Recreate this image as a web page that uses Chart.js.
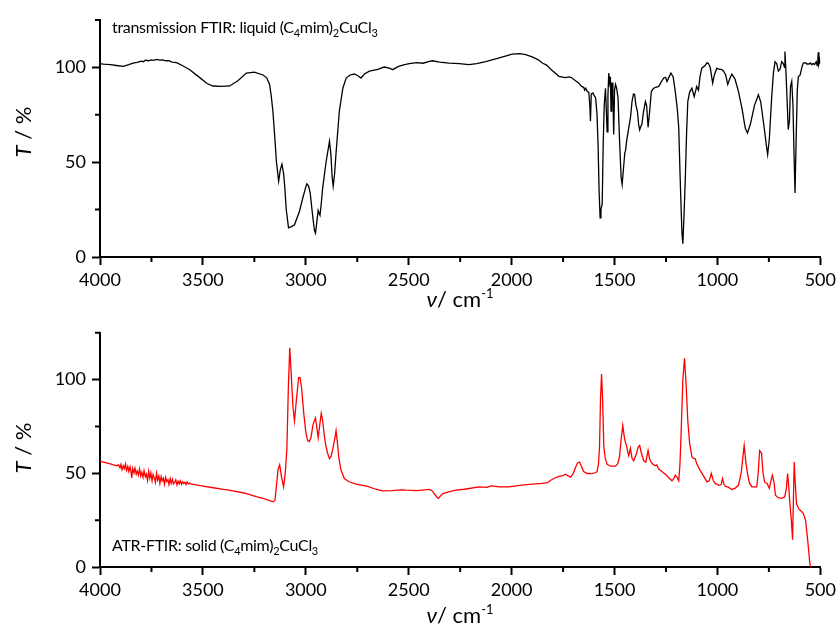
<!DOCTYPE html>
<html>
<head>
<meta charset="utf-8">
<script src="https://cdn.jsdelivr.net/npm/chart.js@4.4.1/dist/chart.umd.min.js"></script>
<style>
  body { margin: 0; background: #fff; }
  #wrap { position: relative; width: 840px; height: 632px; font-family: Lato, "Open Sans", sans-serif; color: #000; }
  canvas { position: absolute; left: 0; }
  .note { position: absolute; font-size: 16px; white-space: nowrap; letter-spacing: -0.3px; }
  .note sub { font-size: 11px; vertical-align: -4px; line-height: 0; }
  .xt { position: absolute; width: 840px; text-align: center; font-size: 22px; }
  .xt sup { font-size: 13px; vertical-align: 9px; line-height: 0; }
  .yt { position: absolute; width: 60px; height: 26px; line-height: 26px; text-align: center; font-size: 22px; transform: rotate(-90deg); transform-origin: center; white-space: nowrap; }
</style>
</head>
<body>
<div id="wrap">
  <canvas id="top" width="840" height="316" style="top:0"></canvas>
  <canvas id="bot" width="840" height="316" style="top:316px"></canvas>
  <div class="note" style="left:112px;top:17px">transmission FTIR: liquid (C<sub>4</sub>mim)<sub>2</sub>CuCl<sub>3</sub></div>
  <div class="note" style="left:112px;top:535px">ATR-FTIR: solid (C<sub>4</sub>mim)<sub>2</sub>CuCl<sub>3</sub></div>
  <div class="xt" style="left:40px;top:285px"><i>&nu;</i>/ cm<sup>-1</sup></div>
  <div class="xt" style="left:40px;top:601px"><i>&nu;</i>/ cm<sup>-1</sup></div>
  <div class="yt" style="left:-7px;top:119px"><i>T</i> / %</div>
  <div class="yt" style="left:-7px;top:435px"><i>T</i> / %</div>
</div>
<script>
// transmission FTIR, liquid sample (black)
const liquidWn = [4000,3984,3950,3920,3887,3860,3840,3820,3800,3790,3780,3765,3750,3740,3725,3710,3695,3680,3665,3650,3628,3600,3564,3520,3480,3451,3410,3370,3330,3289,3250,3208,3190,3176,3168,3160,3150,3143,3132,3124,3116,3108,3103,3095,3084,3070,3055,3031,3015,3000,2995,2987,2979,2966,2958,2953,2947,2940,2935,2931,2925,2918,2901,2885,2878,2872,2867,2860,2853,2837,2820,2804,2785,2764,2745,2732,2715,2691,2650,2620,2594,2578,2550,2520,2497,2460,2430,2400,2384,2350,2303,2255,2207,2170,2126,2060,1997,1960,1932,1900,1870,1851,1830,1810,1790,1770,1740,1720,1706,1690,1673,1660,1650,1645,1640,1633,1625,1620,1617,1613,1605,1598,1592,1585,1580,1575,1570,1566,1560,1555,1550,1544,1540,1536,1532,1528,1524,1520,1517,1514,1512,1508,1504,1500,1495,1490,1483,1475,1468,1463,1457,1450,1447,1440,1431,1422,1415,1408,1402,1396,1389,1383,1378,1372,1367,1360,1350,1344,1337,1330,1321,1310,1300,1285,1275,1261,1252,1245,1235,1226,1215,1205,1195,1188,1182,1176,1172,1168,1163,1156,1150,1144,1135,1124,1113,1105,1101,1092,1085,1076,1060,1050,1043,1035,1028,1023,1015,1003,990,980,970,960,950,940,930,915,898,880,865,854,840,820,801,790,775,760,756,748,736,728,720,712,704,696,688,680,674,672,668,662,656,650,645,639,633,628,623,618,612,607,598,590,583,575,565,555,548,543,535,528,520,515,512,510,507,503,500];
const liquidT = [102,101.7,101.5,101,100.5,101.5,102.3,102.6,103.3,103,103.8,103.5,104,103.7,104.2,103.8,104,103.5,103.5,102.8,102.5,101,98.8,95,91.5,90.2,90,90.2,93,97,97.5,96,94.5,91,85,77,62,50.5,40,46,49,44,38,25,15.4,16,17,24,31,37,38.6,37.5,34,21,14,12.5,18,24.6,23,22,28,36.5,50.5,61,54,42,37.4,44,55,77,89,94.4,96,96.5,95.5,94.4,96.5,98,99,100.2,99.6,98.8,100.5,101.5,102,102.5,102.2,103.2,103.5,102.8,102.3,102,101.5,102,103,105,107,107.3,106.7,105.5,104,102.3,101.2,99,97.2,95.3,94.6,95,94.4,93,91.7,90,89.5,88,89,87.4,86.8,80,71.6,86,86.5,85,84,75,59.4,35,20.7,25,28,60,80,89,78,66,85,97,92,95,77,90,92,85,64.6,88,91,89,84,60,42,38.2,46,55,55.8,62,68,74,82,86,85.6,80,77,70,67,69,70,76,82,80,68.4,76,87.4,89,89.5,90,92,94.4,94.8,92.6,95,97,95,87.4,78,68,45,24,12,7,20,41.7,65,82,87,89,84.6,88,90,88,95,99.6,101,102.5,102,100,95,91.7,96,99.6,99,99,98,96,91,94,96.5,94,87.4,78,68,65.4,70,80,85.6,82,70,57,54,62,85,97,103,102,98,99,103,102,100,108.4,100,84,67.2,72,90,92.6,80,55,33.8,60,88,95,96,100,102.3,102.5,101.8,101.8,102.4,101.5,102,101.5,103,101,105,108,102,104,102];

// ATR-FTIR, solid sample (red)
const solidWn = [4000,3984,3950,3920,3910,3903,3898,3893,3887,3882,3876,3871,3865,3860,3854,3849,3846,3841,3835,3830,3824,3819,3813,3808,3802,3797,3791,3786,3780,3775,3769,3764,3758,3753,3747,3742,3736,3731,3725,3720,3714,3709,3703,3698,3692,3687,3681,3676,3670,3665,3659,3654,3648,3643,3637,3632,3626,3621,3615,3610,3604,3599,3593,3588,3582,3577,3571,3565,3560,3500,3450,3400,3380,3300,3241,3200,3160,3150,3143,3135,3127,3118,3108,3100,3092,3085,3078,3072,3062,3055,3045,3035,3028,3020,3010,3000,2991,2983,2975,2965,2953,2946,2940,2932,2925,2918,2910,2904,2895,2885,2877,2869,2860,2853,2846,2840,2830,2813,2790,2756,2724,2700,2660,2627,2580,2540,2513,2460,2400,2385,2376,2365,2356,2345,2333,2310,2271,2230,2206,2158,2120,2100,2060,2013,1960,1900,1851,1825,1810,1790,1770,1750,1738,1725,1713,1700,1690,1680,1670,1660,1650,1633,1610,1595,1585,1578,1573,1568,1563,1558,1552,1545,1536,1520,1495,1485,1476,1468,1460,1452,1447,1440,1435,1431,1423,1415,1407,1395,1385,1378,1370,1358,1348,1337,1330,1326,1315,1302,1295,1285,1270,1253,1240,1221,1213,1205,1197,1188,1182,1176,1168,1160,1152,1144,1135,1124,1116,1108,1100,1084,1070,1051,1040,1030,1020,1010,994,982,975,968,962,945,930,915,898,885,877,870,862,854,845,833,809,802,795,787,785,778,771,759,748,740,733,725,718,705,689,673,665,659,653,648,641,635,631,627,622,616,605,595,583,572,562,551,548];
const solidT = [56.5,56,55,54,54.5,53,54.8,52,54,52.5,55,51.5,53.6,51,53.5,50.8,47.5,52.6,50.2,52.8,49.6,51.2,49,52.3,48.6,50.6,47.8,51.4,48.2,49.6,46.2,51,47.4,50.2,46,49.4,47.6,45.2,50,46.4,48.6,44.6,48.2,46,47.4,44.2,47.8,45.6,46.6,44,47.2,44.6,46.8,44.4,45.2,46.4,43.8,45.8,44.4,46,44.2,45.4,44.6,45.2,44,45.4,44.4,44.8,44.4,43.2,42.3,41.4,41.2,39.5,37.5,36.3,34.8,35.5,43,52,54.6,48,42.8,50,63,95,117,105,85,78,90,101,101,95,82,72,67.5,67,69,76,79.6,74,69,76,82,78,70,65.6,61,57.8,59,63,68,72.8,66,58.8,52,47.2,45.5,44.2,43.6,43,41.5,40.6,40.8,41.2,41,40.8,41.4,40.6,39.2,37.5,36.6,38,39.2,40,41,41.5,41.9,42.8,42.5,43.3,42.8,42.8,43.6,44.2,44.6,45,46.3,47.5,48.4,48.8,49.5,48.6,48,50,53,55.5,56,53.5,51,49.9,49.8,50.3,50.8,55,64,90,103,90,64,58,54.8,53.8,53.8,55,58.7,68,75.5,69,66.6,64,61,59.4,63.3,58,56.7,60,64,64.9,61,56.7,56,62.3,58,56.7,55,54,54.5,52.3,51,49.5,48,46,47,49,48,46,55,73.2,100,111.4,97,78,66,58.7,58,57.8,55,51.6,49,45.4,46,49.9,46,44.6,43.6,44,47.2,44,43.1,42.5,41.4,42,43.6,49.9,58,64.9,56,49.9,45,42.8,42.8,50,62.2,61,59.4,50,45.4,44.6,42,46,49,45,38.3,37,36.6,37.5,42,49.9,42,33.9,25,14.5,35,56,45,33.9,31,30,28.6,25,15,2,0];

const xMajor = [4000, 3500, 3000, 2500, 2000, 1500, 1000, 500];
const xMinor = [3750, 3250, 2750, 2250, 1750, 1250, 750];
const yMajor = [0, 50, 100];
const yMinor = [25, 75, 125];

const FONT = 'Lato, "Open Sans", sans-serif';

const minorTicks = {
  id: 'minorTicks',
  afterDraw(chart) {
    const { ctx, scales: { x, y } } = chart;
    ctx.save();
    ctx.strokeStyle = '#000';
    ctx.lineWidth = 2;
    ctx.beginPath();
    xMinor.forEach(v => {
      const px = x.getPixelForValue(v);
      ctx.moveTo(px, y.bottom);
      ctx.lineTo(px, y.bottom + 5);
    });
    yMinor.forEach(v => {
      const py = y.getPixelForValue(v);
      ctx.moveTo(x.left, py);
      ctx.lineTo(x.left - 5, py);
    });
    ctx.stroke();
    ctx.restore();
  }
};

function makeChart(id, wn, t, color, padTop, xHeight) {
  const pts = wn.map((w, i) => ({ x: w, y: t[i] }));
  return new Chart(document.getElementById(id), {
    type: 'line',
    data: {
      datasets: [{
        data: pts,
        borderColor: color,
        borderWidth: 1.3,
        pointRadius: 0,
        tension: 0,
        fill: false
      }]
    },
    options: {
      responsive: false,
      animation: false,
      devicePixelRatio: 1,
      layout: { padding: { left: 0, right: 18, top: padTop, bottom: 0 } },
      plugins: { legend: { display: false }, tooltip: { enabled: false } },
      scales: {
        x: {
          type: 'linear',
          reverse: true,
          min: 500,
          max: 4000,
          afterBuildTicks: s => { s.ticks = xMajor.map(v => ({ value: v })); },
          afterFit: s => { s.height = xHeight; },
          border: { color: '#000', width: 2 },
          grid: { drawOnChartArea: false, tickLength: 8, tickWidth: 2, tickColor: '#000' },
          ticks: { color: '#000', font: { family: FONT, size: 18 }, padding: 4, maxRotation: 0, callback: v => String(v) }
        },
        y: {
          min: 0,
          max: 125,
          afterBuildTicks: s => { s.ticks = yMajor.map(v => ({ value: v })); },
          afterFit: s => { s.width = 100; },
          border: { color: '#000', width: 2 },
          grid: { drawOnChartArea: false, tickLength: 8, tickWidth: 2, tickColor: '#000' },
          ticks: { color: '#000', font: { family: FONT, size: 18 }, padding: 6, callback: v => String(v) }
        }
      }
    },
    plugins: [minorTicks]
  });
}

makeChart('top', liquidWn, liquidT, '#000000', 20, 59);
makeChart('bot', solidWn, solidT, '#ff0000', 16, 65);
</script>
</body>
</html>
